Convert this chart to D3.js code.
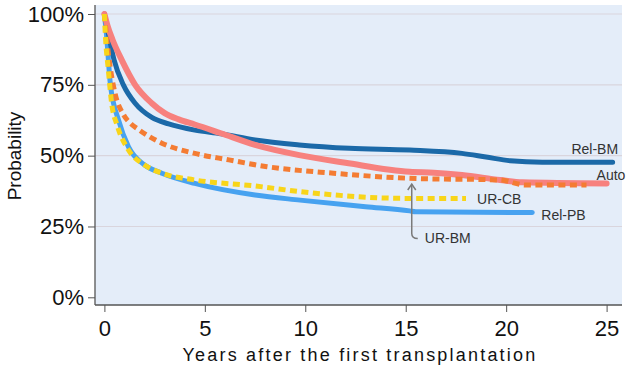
<!DOCTYPE html>
<html>
<head>
<meta charset="utf-8">
<script src="https://cdn.jsdelivr.net/npm/d3@7"></script>
<style>
  body { margin: 0; background: #fff; }
  svg { display: block; font-family: "Liberation Sans", Arial, sans-serif; }
  .tick text { fill: #111; }
</style>
</head>
<body>
<div id="wrapper"></div>
<script>
// 1. Data: years after transplant and survival probability

const relBmYears = [0, 0.2, 0.48, 0.95, 1.53, 2.36, 3.2, 4.5, 5.8, 7.5, 9.7, 12.2, 15.2, 17.8, 19.0, 20.2, 21.8, 25.3]
const relBmProb  = [1.0, 0.93, 0.838, 0.749, 0.685, 0.635, 0.612, 0.59, 0.577, 0.555, 0.538, 0.526, 0.52, 0.508, 0.495, 0.482, 0.477, 0.477]

const autoYears = [0, 0.15, 0.4, 0.86, 1.53, 2.36, 3.0, 3.7, 4.5, 5.8, 7.5, 9.7, 12.0, 15.2, 16.4, 17.8, 19.7, 20.8, 25.0]
const autoProb  = [1.0, 0.96, 0.91, 0.838, 0.75, 0.685, 0.65, 0.628, 0.61, 0.579, 0.538, 0.502, 0.475, 0.443, 0.44, 0.432, 0.414, 0.406, 0.402]

const urBmYears = [0, 0.2, 0.53, 0.95, 1.36, 1.7, 2.86, 4.5, 6.2, 8.1, 11.4, 15.2, 19.7, 21.0, 24.0]
const urBmProb  = [1.0, 0.86, 0.72, 0.645, 0.61, 0.592, 0.544, 0.508, 0.485, 0.461, 0.438, 0.42, 0.414, 0.396, 0.396]

const urCbYears = [0, 0.03, 0.2, 0.37, 0.62, 1.2, 2.0, 2.86, 4.5, 7.5, 9.74, 15.2, 18.0]
const urCbProb  = [1.0, 0.95, 0.80, 0.68, 0.61, 0.52, 0.467, 0.438, 0.414, 0.393, 0.373, 0.349, 0.349]

const relPbYears = [0, 0.1, 0.3, 0.7, 1.2, 2.0, 2.86, 4.5, 7.5, 9.74, 13.0, 15.2, 15.5, 21.3]
const relPbProb  = [1.0, 0.93, 0.75, 0.626, 0.531, 0.467, 0.438, 0.402, 0.361, 0.343, 0.32, 0.305, 0.302, 0.299]

const xTicks = [0, 5, 10, 15, 20, 25]
const yTicks = [0, 0.25, 0.5, 0.75, 1]

// drawing order: bottom first
const series = [
  { name: "Rel-PB", years: relPbYears, prob: relPbProb, color: "#47a2f0", width: 5, dash: null },
  { name: "Rel-BM", years: relBmYears, prob: relBmProb, color: "#1b69a8", width: 5, dash: null },
  { name: "Auto",   years: autoYears,  prob: autoProb,  color: "#f7817e", width: 6, dash: null },
  { name: "UR-BM",  years: urBmYears,  prob: urBmProb,  color: "#f47c33", width: 5, dash: "7,4.5" },
  { name: "UR-CB",  years: urCbYears,  prob: urCbProb,  color: "#f8d51a", width: 5, dash: "7,4.5" },
]

// 2. Dimensions

const dimensions = {
  width: 630,
  height: 370,
  plotLeft: 95,
  plotRight: 622,
  plotTop: 5,
  plotBottom: 305,
}

// 3. Canvas

const svg = d3.select("#wrapper")
  .append("svg")
    .attr("width", dimensions.width)
    .attr("height", dimensions.height)

// 4. Scales

const xScale = d3.scaleLinear()
  .domain([0, 25])
  .range([104.4, 606.6])

const yScale = d3.scaleLinear()
  .domain([0, 1])
  .range([297.3, 14])

// 5. Background + grid

svg.append("rect")
  .attr("x", dimensions.plotLeft)
  .attr("y", dimensions.plotTop)
  .attr("width", dimensions.plotRight - dimensions.plotLeft)
  .attr("height", dimensions.plotBottom - dimensions.plotTop)
  .attr("fill", "#e4edf9")

svg.append("g").selectAll("line")
  .data(yTicks.filter(d => d > 0))
  .enter().append("line")
    .attr("x1", dimensions.plotLeft)
    .attr("x2", dimensions.plotRight)
    .attr("y1", d => yScale(d))
    .attr("y2", d => yScale(d))
    .attr("stroke", "#d9d5dd")
    .attr("stroke-width", 1.2)

// 6. Lines

const lineGenerator = d3.line()
  .x(d => xScale(d[0]))
  .y(d => yScale(d[1]))
  .curve(d3.curveMonotoneX)

svg.append("g").selectAll("path")
  .data(series)
  .enter().append("path")
    .attr("d", s => lineGenerator(s.years.map((t, i) => [t, s.prob[i]])))
    .attr("fill", "none")
    .attr("stroke", s => s.color)
    .attr("stroke-width", s => s.width)
    .attr("stroke-dasharray", s => s.dash)
    .attr("stroke-linejoin", "round")
    .attr("stroke-linecap", s => s.dash ? "butt" : "round")

// 7. Axes

const yAxis = svg.append("g")
  .attr("transform", `translate(${dimensions.plotLeft},0)`)
  .call(d3.axisLeft(yScale)
    .tickValues(yTicks)
    .tickFormat(d3.format(".0%"))
    .tickSize(7)
    .tickPadding(4))
yAxis.select(".domain").remove()
yAxis.selectAll(".tick line").attr("stroke", "#555")
yAxis.selectAll(".tick text").attr("font-size", 22)

const xAxis = svg.append("g")
  .attr("transform", `translate(0,${dimensions.plotBottom})`)
  .call(d3.axisBottom(xScale)
    .tickValues(xTicks)
    .tickFormat(d3.format("d"))
    .tickSize(7)
    .tickPadding(8))
xAxis.select(".domain").remove()
xAxis.selectAll(".tick line").attr("stroke", "#555")
xAxis.selectAll(".tick text").attr("font-size", 22)

// axis lines
svg.append("line")
  .attr("x1", dimensions.plotLeft).attr("x2", dimensions.plotLeft)
  .attr("y1", dimensions.plotTop).attr("y2", dimensions.plotBottom)
  .attr("stroke", "#555").attr("stroke-width", 1.3)
svg.append("line")
  .attr("x1", dimensions.plotLeft).attr("x2", dimensions.plotRight)
  .attr("y1", dimensions.plotBottom).attr("y2", dimensions.plotBottom)
  .attr("stroke", "#555").attr("stroke-width", 1.3)

// axis titles
svg.append("text")
  .attr("x", 360)
  .attr("y", 361)
  .attr("text-anchor", "middle")
  .attr("font-size", 18)
  .attr("letter-spacing", 2.2)
  .attr("fill", "#111")
  .text("Years after the first transplantation")

svg.append("text")
  .attr("transform", "translate(21,156) rotate(-90)")
  .attr("text-anchor", "middle")
  .attr("font-size", 19)
  .attr("fill", "#111")
  .text("Probability")

// 8. Curve labels (anchored in data units)

const labels = [
  { text: "Rel-BM", t: 23.25, p: 0.505 },
  { text: "Auto",   t: 24.5,  p: 0.415 },
  { text: "UR-CB",  t: 18.55, p: 0.33 },
  { text: "Rel-PB", t: 21.75, p: 0.273 },
  { text: "UR-BM",  t: 15.95, p: 0.192 },
]

svg.append("g").selectAll("text")
  .data(labels)
  .enter().append("text")
    .attr("x", d => xScale(d.t))
    .attr("y", d => yScale(d.p))
    .attr("font-size", 14)
    .attr("fill", "#333")
    .text(d => d.text)

// arrow from UR-BM label up to its curve
const arrowX = xScale(15.3)
const arrowTop = yScale(0.40)
const arrowBottom = yScale(0.225)
svg.append("path")
  .attr("d", `M${arrowX},${arrowTop} L${arrowX},${arrowBottom} Q${arrowX},${arrowBottom + 5} ${arrowX + 6},${arrowBottom + 5}`)
  .attr("fill", "none")
  .attr("stroke", "#7a7a7a")
  .attr("stroke-width", 1.5)
svg.append("path")
  .attr("d", `M${arrowX - 4},${arrowTop + 6} L${arrowX},${arrowTop} L${arrowX + 4},${arrowTop + 6}`)
  .attr("fill", "none")
  .attr("stroke", "#7a7a7a")
  .attr("stroke-width", 1.5)
</script>
</body>
</html>
